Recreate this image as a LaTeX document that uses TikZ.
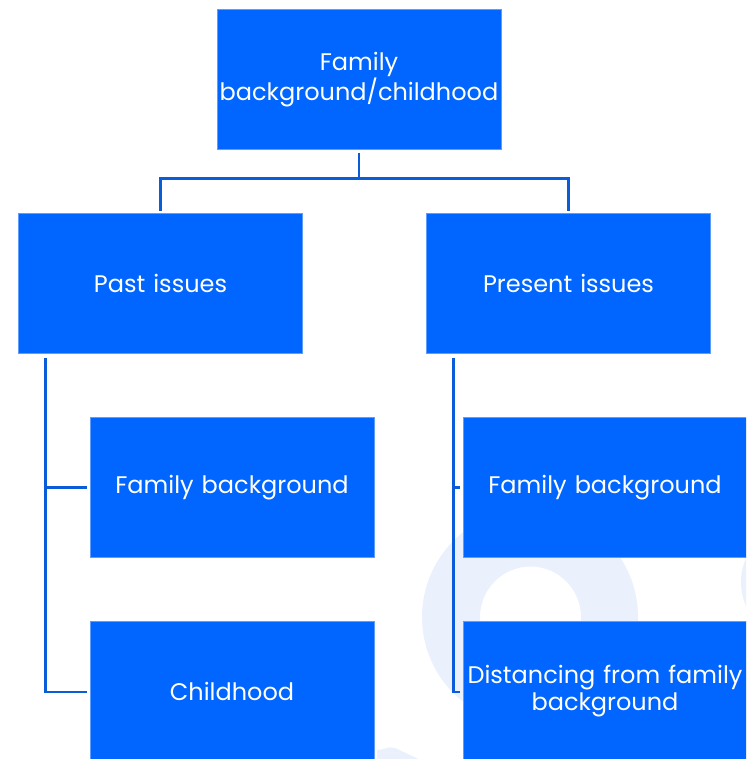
\documentclass[tikz,border=0pt]{standalone}
\usepackage{fontspec}
\setmainfont{Poppins}
\begin{document}
\begin{tikzpicture}[x=1pt,y=-1pt,
  box/.style={rectangle, fill=boxblue, draw=boxedge, line width=0.8pt,
    minimum width=284pt, minimum height=140pt, inner sep=1pt,
    text=white, align=center, text width=282pt,
    font=\fontsize{24}{27}\selectfont},
  conn/.style={draw=linkblue, line width=2.8pt}]
\definecolor{boxblue}{HTML}{0066FF}
\definecolor{boxedge}{HTML}{5C9DFF}
\definecolor{linkblue}{HTML}{0A5CD8}
\definecolor{logotint}{HTML}{EAF1FC}
\useasboundingbox (0,0) rectangle (746,759);
\clip (0,0) rectangle (746,759);
\fill[white] (0,0) rectangle (746,759);

% faint logo shapes in the background
\fill[logotint, even odd rule] (530,617) circle[radius=108pt]
  (480,617) -- (480,680) -- (581,680) -- (581,617) arc[start angle=0, end angle=180, radius=50.5pt] -- cycle;
\fill[logotint] (800,582) circle[radius=59pt];
\fill[logotint] (377,762) -- (377,750) to[out=0,in=160] (395,748) -- (425,762) -- cycle;

% boxes
\node[box] (top) at (359,79.5) {Family\\background/childhood};
\node[box] (past) at (160.5,283.5) {Past issues};
\node[box] (present) at (568.5,283.5) {Present issues};
\node[box] (pa) at (232,487.5) {Family background};
\node[box] (pb) at (232,691) {Childhood};
\node[box] (ra) at (605,487.5) {Family background};
\node[box] (rb) at (605,691) {Distancing from family\\background};

% top level links
\draw[conn, shorten <=3pt, shorten >=2pt] (top.south) -- ++(0pt,-29pt) -| (past.north);
\draw[conn, shorten <=3pt, shorten >=2pt] (top.south) -- ++(0pt,-29pt) -| (present.north);

% left branch
\draw[conn, shorten >=3pt] ([xshift=27pt,yshift=-4pt]past.south west) |- ([yshift=-1pt]pb.west);
\draw[conn, shorten >=3pt] ([xshift=27pt]past.south west |- pa.west) -- (pa.west);

% right branch
\draw[conn, shorten >=3pt] ([xshift=27pt,yshift=-4pt]present.south west) |- ([yshift=-1pt]rb.west);
\draw[conn, shorten >=3pt] ([xshift=27pt]present.south west |- ra.west) -- (ra.west);
\end{tikzpicture}
\end{document}
